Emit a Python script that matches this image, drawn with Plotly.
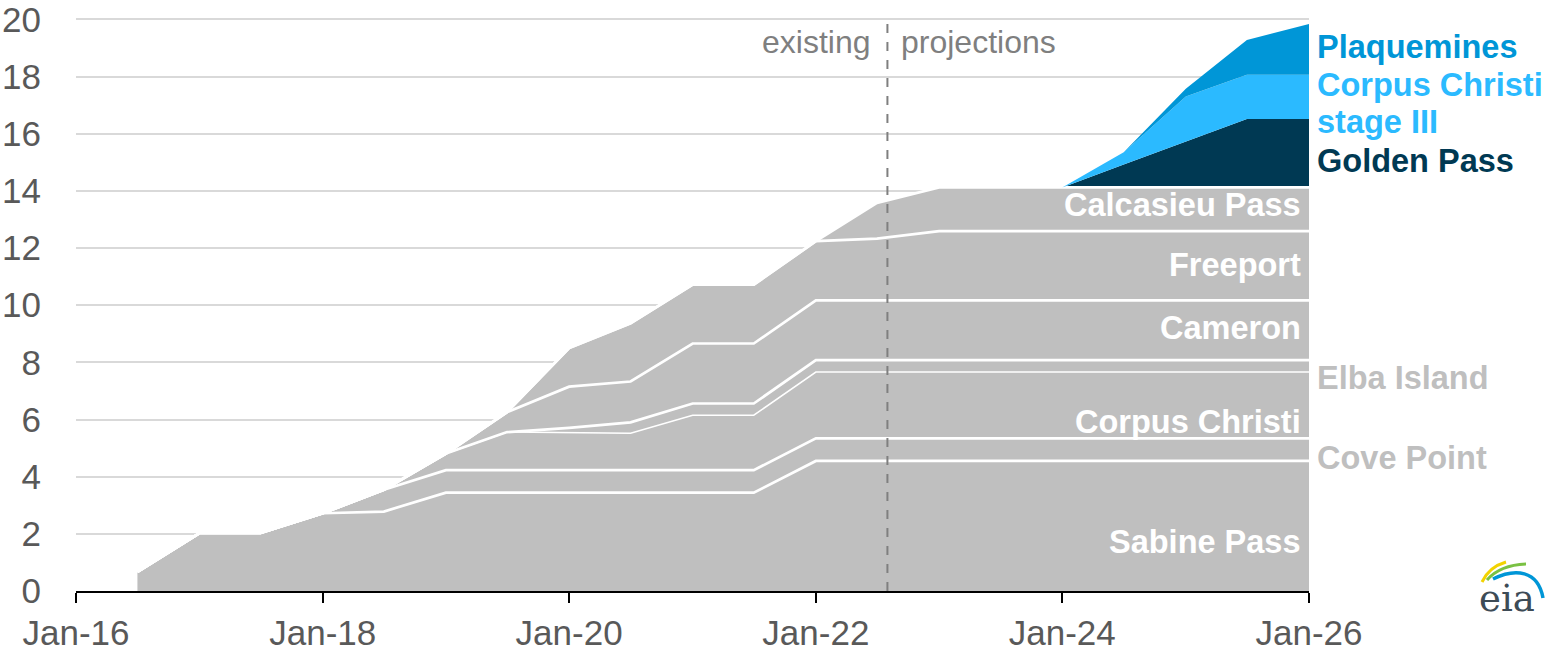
"""US LNG export capacity, existing and projected (stacked area)."""

import plotly.graph_objects as go

# half-year points, Jul-16 .. Jan-26
dates = [
    "2016-07-01", "2017-01-01", "2017-07-01", "2018-01-01", "2018-07-01",
    "2019-01-01", "2019-07-01", "2020-01-01", "2020-07-01", "2021-01-01",
    "2021-07-01", "2022-01-01", "2022-07-01", "2023-01-01", "2023-07-01",
    "2024-01-01", "2024-07-01", "2025-01-01", "2025-07-01", "2026-01-01",
]

# capacity by terminal (Bcf/d)
sabine_pass = [0.67, 2.03, 2.03, 2.72, 2.78, 3.44, 3.44, 3.44, 3.44, 3.44,
               3.44, 4.55, 4.55, 4.55, 4.55, 4.55, 4.55, 4.55, 4.55, 4.55]
cove_point = [0, 0, 0, 0, 0.76, 0.79, 0.79, 0.79, 0.79, 0.79,
              0.79, 0.79, 0.79, 0.79, 0.79, 0.79, 0.79, 0.79, 0.79, 0.79]
corpus_christi = [0, 0, 0, 0, 0, 0.58, 1.33, 1.31, 1.29, 1.92,
                  1.92, 2.32, 2.32, 2.32, 2.32, 2.32, 2.32, 2.32, 2.32, 2.32]
elba_island = [0, 0, 0, 0, 0, 0, 0, 0.17, 0.38, 0.41,
               0.41, 0.42, 0.42, 0.42, 0.42, 0.42, 0.42, 0.42, 0.42, 0.42]
cameron = [0, 0, 0, 0, 0, 0, 0.70, 1.44, 1.43, 2.10,
           2.10, 2.09, 2.09, 2.09, 2.09, 2.09, 2.09, 2.09, 2.09, 2.09]
freeport = [0, 0, 0, 0, 0, 0, 0, 1.35, 2.04, 2.06,
            2.06, 2.07, 2.16, 2.42, 2.42, 2.42, 2.42, 2.42, 2.42, 2.42]
calcasieu_pass = [0, 0, 0, 0, 0, 0, 0, 0, 0, 0,
                  0, 0, 1.25, 1.53, 1.53, 1.53, 1.53, 1.53, 1.53, 1.53]
golden_pass = [0] * 15 + [0, 0.80, 1.60, 2.40, 2.40]
corpus_christi_3 = [0] * 15 + [0, 0.43, 1.58, 1.54, 1.54]
plaquemines = [0] * 15 + [0, 0, 0.27, 1.22, 1.78]

y_ticks = [0, 2, 4, 6, 8, 10, 12, 14, 16, 18, 20]

existing = [
    ("Sabine Pass", sabine_pass, 2.7),
    ("Cove Point", cove_point, 2.7),
    ("Corpus Christi", corpus_christi, 1.5),
    ("Elba Island", elba_island, 2.7),
    ("Cameron", cameron, 2.7),
    ("Freeport", freeport, 2.7),
    ("Calcasieu Pass", calcasieu_pass, 2.7),
]
projected = [
    ("Golden Pass", golden_pass, "#003953"),
    ("Corpus Christi stage III", corpus_christi_3, "#2BBAFF"),
    ("Plaquemines", plaquemines, "#0096D7"),
]

GRAY = "#BFBFBF"
FONT = "Liberation Sans"
W, H = 1550, 651
Y_MAX = 20.05
# plot area should span x 76..1309 and y(0)=591, y(20)=19 in pixels
L, R, B = 76, 241, 60
T = (H - B) - 572 * Y_MAX / 20


def paper(px, py):
    """Pixel position -> paper coordinates (for the logo)."""
    return (px - L) / (W - L - R), (H - B - py) / (H - T - B)


fig = go.Figure()

for name, vals, lw in existing:
    fig.add_trace(
        go.Scatter(
            x=dates, y=vals, name=name, mode="lines", stackgroup="lng",
            fillcolor=GRAY, line={"color": "white", "width": lw},
        )
    )

for name, vals, col in projected:
    fig.add_trace(
        go.Scatter(
            x=dates, y=vals, name=name, mode="lines", stackgroup="lng",
            fillcolor=col, line={"color": col, "width": 0},
        )
    )

# existing / projections divider
split = "2022-08-01"
fig.add_shape(
    type="line", x0=split, x1=split, y0=0, y1=20, xref="x", yref="y",
    line={"color": "#7F7F7F", "width": 2, "dash": "dash"},
)

annotations = [
    dict(x=split, y=19.2, text="existing", xanchor="right", xshift=-14,
         font={"size": 32, "color": "#7F7F7F"}),
    dict(x=split, y=19.2, text="projections", xanchor="left", xshift=12,
         font={"size": 32, "color": "#7F7F7F"}),
]

# labels inside the gray area (right aligned at the end)
inside = [("Calcasieu Pass", 13.5), ("Freeport", 11.4), ("Cameron", 9.2),
          ("Corpus Christi", 5.92), ("Sabine Pass", 1.72)]
for text, yv in inside:
    annotations.append(dict(x="2026-01-01", y=yv, text=f"<b>{text}</b>",
                            xanchor="right", xshift=-6,
                            font={"size": 32.5, "color": "white"}))

# labels to the right of the plot
outside = [("Plaquemines", 19.03, "#0096D7"), ("Corpus Christi", 17.69, "#2BBAFF"),
           ("stage III", 16.41, "#2BBAFF"), ("Golden Pass", 15.06, "#003953"),
           ("Elba Island", 7.45, GRAY), ("Cove Point", 4.66, GRAY)]
for text, yv, col in outside:
    annotations.append(dict(x="2026-01-01", y=yv, text=f"<b>{text}</b>",
                            xanchor="left", xshift=6,
                            font={"size": 32.5, "color": col}))

# eia logo
ex, ey = paper(1507, 599)
annotations.append(dict(x=ex, y=ey, xref="paper", yref="paper", text="eia",
                        xanchor="center",
                        font={"family": "DejaVu Serif", "size": 37, "color": "#3D4B56"}))

for a in annotations:
    a.setdefault("showarrow", False)
    a.setdefault("yanchor", "middle")

arcs = [
    ([(1482, 582), (1489, 567), (1506, 562)], "#F2D300"),
    ([(1487, 580), (1500, 565), (1526, 564)], "#7AC143"),
]
for pts, col in arcs:
    (x0, y0), (x1, y1), (x2, y2) = [paper(*p) for p in pts]
    fig.add_shape(type="path", xref="paper", yref="paper",
                  path=f"M {x0} {y0} Q {x1} {y1} {x2} {y2}",
                  line={"color": col, "width": 3})
bp = [paper(*p) for p in [(1493, 579), (1515, 568), (1538, 570), (1543, 598)]]
fig.add_shape(type="path", xref="paper", yref="paper",
              path="M {} {} C {} {} {} {} {} {}".format(*[c for p in bp for c in p]),
              line={"color": "#0096D7", "width": 3.5})

fig.update_layout(
    width=W, height=H,
    margin={"l": L, "r": R, "t": T, "b": B, "pad": 0},
    paper_bgcolor="white", plot_bgcolor="white",
    showlegend=False,
    font={"family": FONT, "color": "#595959"},
    annotations=annotations,
    xaxis={
        "type": "date", "automargin": False, "ticklabeloverflow": "allow",
        "range": ["2016-01-01", "2026-01-01"],
        "tick0": "2016-01-01", "dtick": "M24", "tickformat": "%b-%y",
        "showgrid": False, "zeroline": False,
        "showline": True, "linecolor": "black", "linewidth": 2,
        "ticks": "outside", "ticklen": 10, "tickwidth": 2, "tickcolor": "black",
        "tickfont": {"size": 35, "color": "#595959"},
    },
    yaxis={
        "automargin": False, "ticklabeloverflow": "allow",
        "range": [0, Y_MAX], "tickmode": "array", "tickvals": y_ticks,
        "showgrid": True, "gridcolor": "#D9D9D9", "gridwidth": 1.5,
        "zeroline": False, "showline": False, "ticks": "",
        "ticklabelstandoff": 34,
        "tickfont": {"size": 35, "color": "#595959"},
    },
)

fig.write_html(
    "out.html",
    config={"displayModeBar": False},
    post_script="document.body.style.margin = '0px';",
)
